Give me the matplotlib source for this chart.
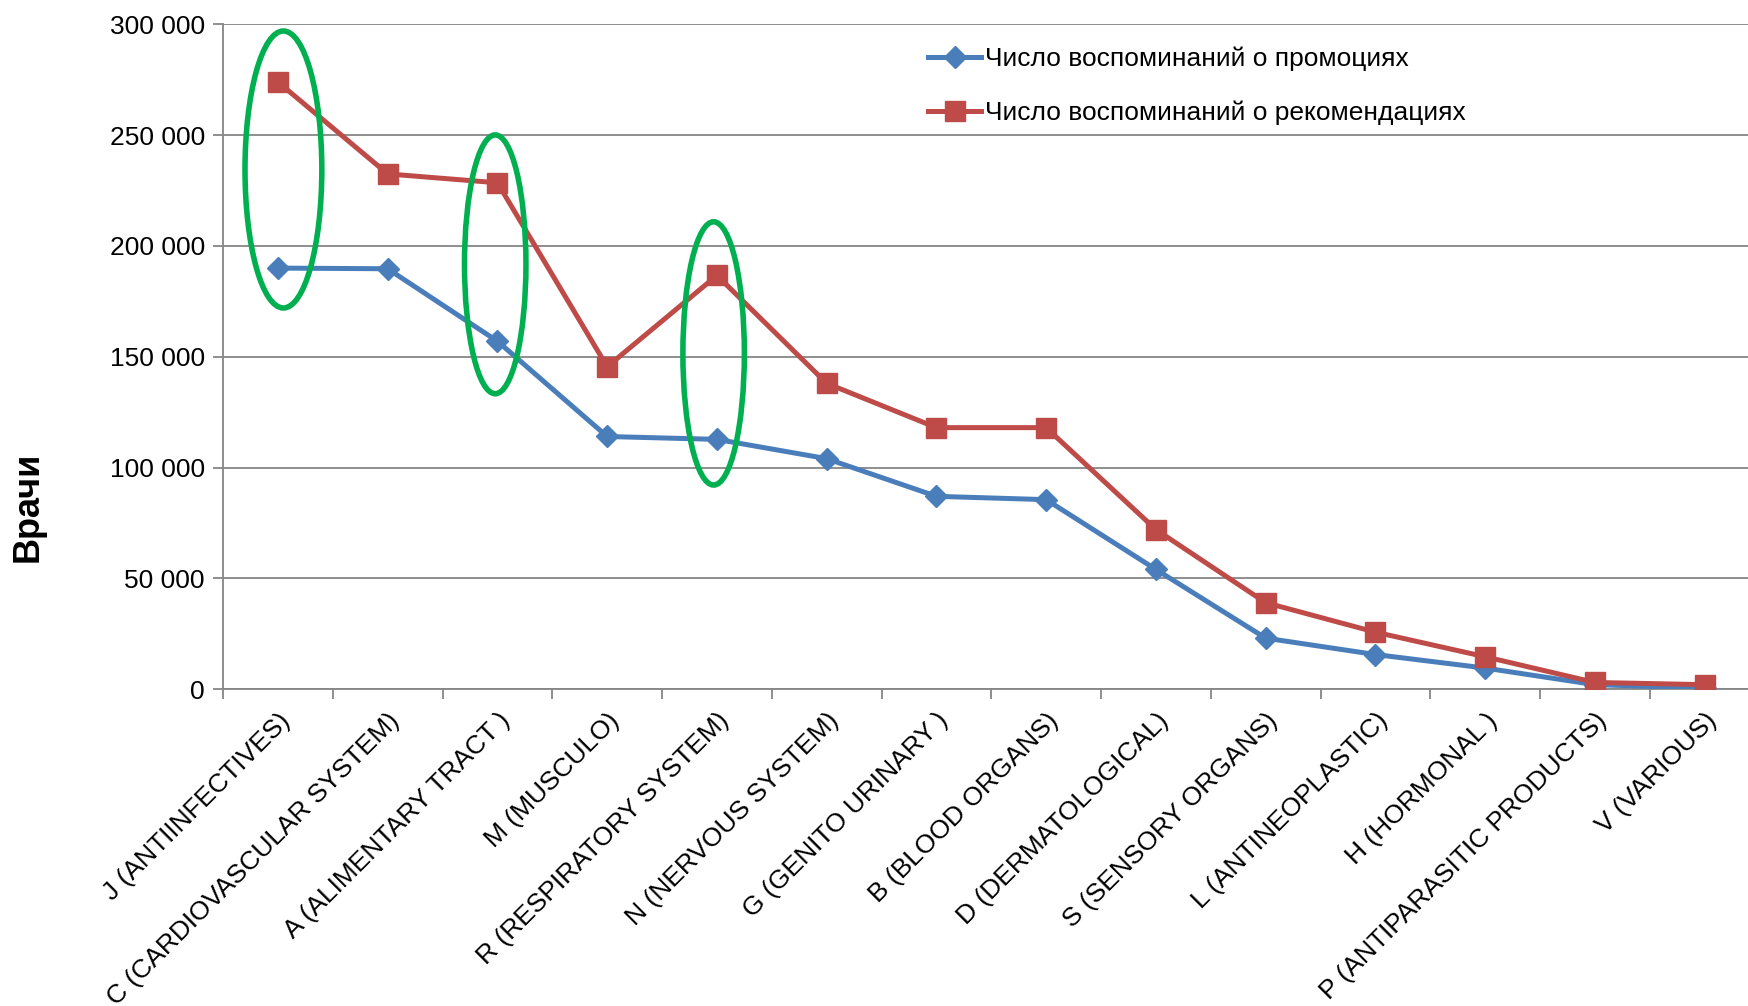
import matplotlib.pyplot as plt
from matplotlib.patches import Ellipse
from matplotlib.ticker import FuncFormatter, FixedLocator, NullFormatter

plt.rcParams['font.family'] = ['Liberation Sans', 'DejaVu Sans']

#---------------------
# данные
#---------------------
categories = ['J (ANTIINFECTIVES)', 'C (CARDIOVASCULAR SYSTEM)', 'A (ALIMENTARY TRACT )',
              'M (MUSCULO)', 'R (RESPIRATORY SYSTEM)', 'N (NERVOUS SYSTEM)',
              'G (GENITO URINARY )', 'B (BLOOD ORGANS)', 'D (DERMATOLOGICAL)',
              'S (SENSORY ORGANS)', 'L (ANTINEOPLASTIC)', 'H (HORMONAL )',
              'P (ANTIPARASITIC PRODUCTS)', 'V (VARIOUS)']
promo = [190000, 189700, 157000, 114000, 112700, 104000, 87000, 85500,
         54000, 23000, 15600, 9500, 2000, 500]
recommend = [274000, 232500, 228500, 145500, 186700, 138000, 118000, 118000,
             72000, 39000, 25700, 14600, 3000, 2000]
promo_label = 'Число воспоминаний о промоциях'
recommend_label = 'Число воспоминаний о рекомендациях'
y_label = 'Врачи'
y_ticks = [0, 50000, 100000, 150000, 200000, 250000, 300000]

# выделенные эллипсы: (x, y, ширина, высота)
highlights = [(0.05, 234500, 0.70, 125000),
              (1.98, 191700, 0.56, 116800),
              (3.97, 151500, 0.56, 118800)]

#---------------------
# график
#---------------------
fig = plt.figure(figsize=(17.48, 10.06), dpi=100)
ax = fig.add_axes([0.1276, 0.315, 0.879, 0.6608])

x = list(range(len(categories)))
ax.plot(x, promo, color='#4A7EBB', lw=3.6, marker='D', ms=11.5,
        label=promo_label, zorder=3)
ax.plot(x, recommend, color='#BE4B48', lw=3.6, marker='s', ms=14.5,
        label=recommend_label, zorder=3)

for cx, cy, w, h in highlights:
    ax.add_patch(Ellipse((cx, cy), w, h, fill=False, ec='#00B050', lw=4, zorder=4))

ax.set_xlim(-0.5, len(categories) - 0.5)
ax.set_ylim(0, 300000)
ax.set_yticks(y_ticks)
ax.yaxis.set_major_formatter(FuncFormatter(lambda v, p: f'{int(v):,}'.replace(',', ' ')))
ax.grid(axis='y', color='#868686', lw=1.3)
ax.set_axisbelow(True)

# деления между категориями
ax.xaxis.set_major_locator(FixedLocator([i - 0.5 for i in range(len(categories) + 1)]))
ax.xaxis.set_major_formatter(NullFormatter())
ax.xaxis.set_minor_locator(FixedLocator(x))
ax.set_xticklabels(categories, minor=True, rotation=45, ha='right',
                   rotation_mode='anchor', fontsize=19)
ax.tick_params(axis='x', which='major', length=7, width=1.3, color='#868686')
ax.tick_params(axis='x', which='minor', length=0, pad=14)
ax.tick_params(axis='y', length=7, width=1.3, color='#868686', labelsize=19, pad=6)

for s in ['top', 'right']:
    ax.spines[s].set_visible(False)
for s in ['left', 'bottom']:
    ax.spines[s].set_color('#868686')
    ax.spines[s].set_linewidth(1.3)

fig.text(0.016, 0.496, y_label, rotation=90, fontsize=26, fontweight='bold',
         ha='center', va='center')

ax.legend(loc='upper left', bbox_to_anchor=(0.459, 0.967), frameon=False,
          fontsize=19, handlelength=2.0, handletextpad=0.15, labelspacing=1.12,
          borderpad=0, borderaxespad=0)

plt.savefig('out.png', dpi=100)
